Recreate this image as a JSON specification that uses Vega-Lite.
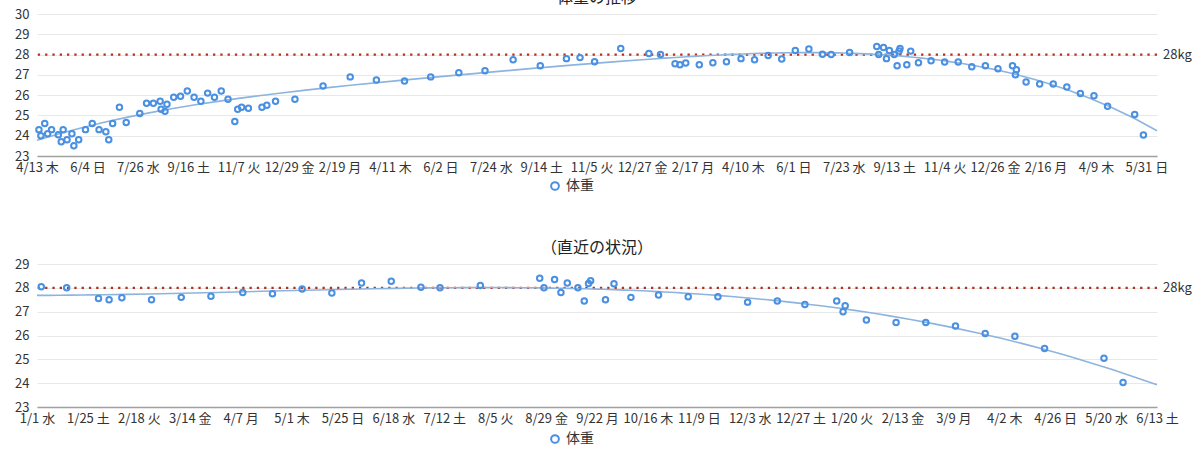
{
  "$schema": "https://vega.github.io/schema/vega-lite/v6.json",
  "padding": {"left": 14, "right": 0, "top": -10, "bottom": 0},
  "background": "white",
  "config": {
    "font": "Noto Sans CJK JP",
    "view": {"stroke": null},
    "axis": {"labelFontSize": 13, "labelColor": "#333", "title": null},
    "axisY": {"grid": true, "gridColor": "#e8e8e8", "domain": false, "ticks": false, "labelPadding": 8, "labelOverlap": false, "tickCount": 8},
    "title": {"fontSize": 16, "fontWeight": "normal", "color": "#222", "offset": 2},
    "legend": {"orient": "none", "legendX": 511, "legendY": 165, "title": null, "labelFontSize": 14, "labelColor": "#333", "symbolStrokeWidth": 2, "symbolSize": 60}
  },
  "data": {
    "format": {"parse": {"date": "date"}},
    "values": [
      {"date": "2023-04-15", "weight": 24.3},
      {"date": "2023-04-17", "weight": 24.0},
      {"date": "2023-04-21", "weight": 24.6},
      {"date": "2023-04-24", "weight": 24.1},
      {"date": "2023-04-28", "weight": 24.3},
      {"date": "2023-05-05", "weight": 24.05},
      {"date": "2023-05-08", "weight": 23.7},
      {"date": "2023-05-10", "weight": 24.3},
      {"date": "2023-05-14", "weight": 23.8},
      {"date": "2023-05-19", "weight": 24.1},
      {"date": "2023-05-21", "weight": 23.5},
      {"date": "2023-05-26", "weight": 23.8},
      {"date": "2023-06-02", "weight": 24.3},
      {"date": "2023-06-09", "weight": 24.6},
      {"date": "2023-06-16", "weight": 24.3},
      {"date": "2023-06-23", "weight": 24.2},
      {"date": "2023-06-26", "weight": 23.8},
      {"date": "2023-06-30", "weight": 24.6},
      {"date": "2023-07-07", "weight": 25.4},
      {"date": "2023-07-14", "weight": 24.65},
      {"date": "2023-07-28", "weight": 25.1},
      {"date": "2023-08-04", "weight": 25.6},
      {"date": "2023-08-11", "weight": 25.6},
      {"date": "2023-08-18", "weight": 25.7},
      {"date": "2023-08-19", "weight": 25.3},
      {"date": "2023-08-23", "weight": 25.2},
      {"date": "2023-08-25", "weight": 25.55},
      {"date": "2023-09-01", "weight": 25.9},
      {"date": "2023-09-08", "weight": 25.95},
      {"date": "2023-09-15", "weight": 26.2},
      {"date": "2023-09-22", "weight": 25.9},
      {"date": "2023-09-29", "weight": 25.7},
      {"date": "2023-10-06", "weight": 26.1},
      {"date": "2023-10-13", "weight": 25.9},
      {"date": "2023-10-20", "weight": 26.2},
      {"date": "2023-10-27", "weight": 25.8},
      {"date": "2023-11-03", "weight": 24.7},
      {"date": "2023-11-06", "weight": 25.3},
      {"date": "2023-11-10", "weight": 25.4},
      {"date": "2023-11-17", "weight": 25.35},
      {"date": "2023-12-01", "weight": 25.4},
      {"date": "2023-12-06", "weight": 25.5},
      {"date": "2023-12-15", "weight": 25.7},
      {"date": "2024-01-04", "weight": 25.8},
      {"date": "2024-02-02", "weight": 26.45},
      {"date": "2024-03-01", "weight": 26.9},
      {"date": "2024-03-28", "weight": 26.75},
      {"date": "2024-04-26", "weight": 26.7},
      {"date": "2024-05-23", "weight": 26.9},
      {"date": "2024-06-21", "weight": 27.1},
      {"date": "2024-07-18", "weight": 27.2},
      {"date": "2024-08-16", "weight": 27.75},
      {"date": "2024-09-13", "weight": 27.45},
      {"date": "2024-10-10", "weight": 27.8},
      {"date": "2024-10-24", "weight": 27.85},
      {"date": "2024-11-08", "weight": 27.65},
      {"date": "2024-12-05", "weight": 28.3},
      {"date": "2025-01-03", "weight": 28.05},
      {"date": "2025-01-15", "weight": 28.0},
      {"date": "2025-01-30", "weight": 27.55},
      {"date": "2025-02-04", "weight": 27.5},
      {"date": "2025-02-10", "weight": 27.58},
      {"date": "2025-02-24", "weight": 27.5},
      {"date": "2025-03-10", "weight": 27.6},
      {"date": "2025-03-24", "weight": 27.65},
      {"date": "2025-04-08", "weight": 27.8},
      {"date": "2025-04-22", "weight": 27.75},
      {"date": "2025-05-06", "weight": 27.95},
      {"date": "2025-05-20", "weight": 27.78},
      {"date": "2025-06-03", "weight": 28.2},
      {"date": "2025-06-17", "weight": 28.28},
      {"date": "2025-07-01", "weight": 28.02},
      {"date": "2025-07-10", "weight": 28.0},
      {"date": "2025-07-29", "weight": 28.1},
      {"date": "2025-08-26", "weight": 28.4},
      {"date": "2025-08-28", "weight": 28.0},
      {"date": "2025-09-02", "weight": 28.35},
      {"date": "2025-09-05", "weight": 27.8},
      {"date": "2025-09-08", "weight": 28.2},
      {"date": "2025-09-13", "weight": 28.0},
      {"date": "2025-09-16", "weight": 27.45},
      {"date": "2025-09-18", "weight": 28.18},
      {"date": "2025-09-19", "weight": 28.3},
      {"date": "2025-09-26", "weight": 27.5},
      {"date": "2025-09-30", "weight": 28.17},
      {"date": "2025-10-08", "weight": 27.6},
      {"date": "2025-10-21", "weight": 27.7},
      {"date": "2025-11-04", "weight": 27.63},
      {"date": "2025-11-18", "weight": 27.63},
      {"date": "2025-12-02", "weight": 27.4},
      {"date": "2025-12-16", "weight": 27.45},
      {"date": "2025-12-29", "weight": 27.3},
      {"date": "2026-01-13", "weight": 27.45},
      {"date": "2026-01-16", "weight": 27.0},
      {"date": "2026-01-17", "weight": 27.25},
      {"date": "2026-01-27", "weight": 26.65},
      {"date": "2026-02-10", "weight": 26.55},
      {"date": "2026-02-24", "weight": 26.55},
      {"date": "2026-03-10", "weight": 26.4},
      {"date": "2026-03-24", "weight": 26.08},
      {"date": "2026-04-07", "weight": 25.97},
      {"date": "2026-04-21", "weight": 25.45},
      {"date": "2026-05-19", "weight": 25.05},
      {"date": "2026-05-28", "weight": 24.03}
    ]
  },
  "spacing": 46,
  "resolve": {"scale": {"color": "independent"}},
  "vconcat": [
    {
      "title": {"text": "体重の推移"},
      "width": 1120,
      "height": 142,
      "layer": [
        {
          "data": {"values": [{"target": 28, "label": "28kg"}]},
          "mark": {"type": "rule", "color": "#b5301c", "strokeWidth": 2.3, "strokeDash": [2.3, 5]},
          "encoding": {
            "y": {
              "field": "target", "type": "quantitative",
              "scale": {"domain": [23, 30], "nice": false, "zero": false},
              "axis": {"values": [23, 24, 25, 26, 27, 28, 29, 30], "tickCount": 8}
            }
          }
        },
        {
          "data": {"values": [{"target": 28, "label": "28kg"}]},
          "mark": {"type": "text", "align": "left", "baseline": "middle", "dx": 6, "fontSize": 13, "color": "#333"},
          "encoding": {
            "x": {"datum": {"year": 2026, "month": 6, "date": 11, "utc": true}, "type": "temporal"},
            "y": {"field": "target", "type": "quantitative"},
            "text": {"field": "label"}
          }
        },
        {
          "transform": [{"regression": "weight", "on": "date", "method": "poly", "order": 4, "extent": [1681344000000, 1781136000000]}],
          "mark": {"type": "line", "color": "#8db4df", "strokeWidth": 1.6},
          "encoding": {
            "x": {"field": "date", "type": "temporal"},
            "y": {"field": "weight", "type": "quantitative"}
          }
        },
        {
          "mark": {"type": "point", "shape": "circle", "filled": false, "strokeWidth": 2, "size": 30, "opacity": 1},
          "encoding": {
            "x": {
              "field": "date", "type": "temporal",
              "scale": {"type": "utc", "domain": [{"year": 2023, "month": 4, "date": 13, "utc": true}, {"year": 2026, "month": 6, "date": 11, "utc": true}]},
              "axis": {
                "values": [
                  {"year": 2023, "month": 4, "date": 13, "utc": true},
                  {"year": 2023, "month": 6, "date": 4, "utc": true},
                  {"year": 2023, "month": 7, "date": 26, "utc": true},
                  {"year": 2023, "month": 9, "date": 16, "utc": true},
                  {"year": 2023, "month": 11, "date": 7, "utc": true},
                  {"year": 2023, "month": 12, "date": 29, "utc": true},
                  {"year": 2024, "month": 2, "date": 19, "utc": true},
                  {"year": 2024, "month": 4, "date": 11, "utc": true},
                  {"year": 2024, "month": 6, "date": 2, "utc": true},
                  {"year": 2024, "month": 7, "date": 24, "utc": true},
                  {"year": 2024, "month": 9, "date": 14, "utc": true},
                  {"year": 2024, "month": 11, "date": 5, "utc": true},
                  {"year": 2024, "month": 12, "date": 27, "utc": true},
                  {"year": 2025, "month": 2, "date": 17, "utc": true},
                  {"year": 2025, "month": 4, "date": 10, "utc": true},
                  {"year": 2025, "month": 6, "date": 1, "utc": true},
                  {"year": 2025, "month": 7, "date": 23, "utc": true},
                  {"year": 2025, "month": 9, "date": 13, "utc": true},
                  {"year": 2025, "month": 11, "date": 4, "utc": true},
                  {"year": 2025, "month": 12, "date": 26, "utc": true},
                  {"year": 2026, "month": 2, "date": 16, "utc": true},
                  {"year": 2026, "month": 4, "date": 9, "utc": true},
                  {"year": 2026, "month": 5, "date": 31, "utc": true}
                ],
                "labelExpr": "utcFormat(datum.value, '%-m/%-d') + ' ' + ['日','月','火','水','木','金','土'][utcday(datum.value)]",
                "grid": false, "ticks": false, "domainColor": "#a0a0a0", "domainWidth": 1.5,
                "labelPadding": 5, "labelOverlap": false, "labelFlush": false
              }
            },
            "y": {"field": "weight", "type": "quantitative"},
            "color": {"datum": "体重", "scale": {"range": ["#4a90e2"]}}
          }
        }
      ]
    },
    {
      "title": {"text": "（直近の状況）"},
      "width": 1120,
      "height": 143,
      "transform": [{"filter": {"field": "date", "gte": {"year": 2025, "month": 1, "date": 1, "utc": true}}}],
      "layer": [
        {
          "data": {"values": [{"target": 28, "label": "28kg"}]},
          "mark": {"type": "rule", "color": "#b5301c", "strokeWidth": 2.3, "strokeDash": [2.3, 5]},
          "encoding": {
            "y": {
              "field": "target", "type": "quantitative",
              "scale": {"domain": [23, 29], "nice": false, "zero": false},
              "axis": {"values": [23, 24, 25, 26, 27, 28, 29], "tickCount": 7}
            }
          }
        },
        {
          "data": {"values": [{"target": 28, "label": "28kg"}]},
          "mark": {"type": "text", "align": "left", "baseline": "middle", "dx": 6, "fontSize": 13, "color": "#333"},
          "encoding": {
            "x": {"datum": {"year": 2026, "month": 6, "date": 13, "utc": true}, "type": "temporal"},
            "y": {"field": "target", "type": "quantitative"},
            "text": {"field": "label"}
          }
        },
        {
          "transform": [{"regression": "weight", "on": "date", "method": "poly", "order": 3, "extent": [1735689600000, 1781308800000]}],
          "mark": {"type": "line", "color": "#8db4df", "strokeWidth": 1.6},
          "encoding": {
            "x": {"field": "date", "type": "temporal"},
            "y": {"field": "weight", "type": "quantitative"}
          }
        },
        {
          "mark": {"type": "point", "shape": "circle", "filled": false, "strokeWidth": 2, "size": 30, "opacity": 1},
          "encoding": {
            "x": {
              "field": "date", "type": "temporal",
              "scale": {"type": "utc", "domain": [{"year": 2025, "month": 1, "date": 1, "utc": true}, {"year": 2026, "month": 6, "date": 13, "utc": true}]},
              "axis": {
                "values": [
                  {"year": 2025, "month": 1, "date": 1, "utc": true},
                  {"year": 2025, "month": 1, "date": 25, "utc": true},
                  {"year": 2025, "month": 2, "date": 18, "utc": true},
                  {"year": 2025, "month": 3, "date": 14, "utc": true},
                  {"year": 2025, "month": 4, "date": 7, "utc": true},
                  {"year": 2025, "month": 5, "date": 1, "utc": true},
                  {"year": 2025, "month": 5, "date": 25, "utc": true},
                  {"year": 2025, "month": 6, "date": 18, "utc": true},
                  {"year": 2025, "month": 7, "date": 12, "utc": true},
                  {"year": 2025, "month": 8, "date": 5, "utc": true},
                  {"year": 2025, "month": 8, "date": 29, "utc": true},
                  {"year": 2025, "month": 9, "date": 22, "utc": true},
                  {"year": 2025, "month": 10, "date": 16, "utc": true},
                  {"year": 2025, "month": 11, "date": 9, "utc": true},
                  {"year": 2025, "month": 12, "date": 3, "utc": true},
                  {"year": 2025, "month": 12, "date": 27, "utc": true},
                  {"year": 2026, "month": 1, "date": 20, "utc": true},
                  {"year": 2026, "month": 2, "date": 13, "utc": true},
                  {"year": 2026, "month": 3, "date": 9, "utc": true},
                  {"year": 2026, "month": 4, "date": 2, "utc": true},
                  {"year": 2026, "month": 4, "date": 26, "utc": true},
                  {"year": 2026, "month": 5, "date": 20, "utc": true},
                  {"year": 2026, "month": 6, "date": 13, "utc": true}
                ],
                "labelExpr": "utcFormat(datum.value, '%-m/%-d') + ' ' + ['日','月','火','水','木','金','土'][utcday(datum.value)]",
                "grid": false, "ticks": false, "domainColor": "#a0a0a0", "domainWidth": 1.5,
                "labelPadding": 5, "labelOverlap": false, "labelFlush": false
              }
            },
            "y": {"field": "weight", "type": "quantitative"},
            "color": {"datum": "体重", "scale": {"range": ["#4a90e2"]}, "legend": {"legendY": 168}}
          }
        }
      ]
    }
  ]
}
